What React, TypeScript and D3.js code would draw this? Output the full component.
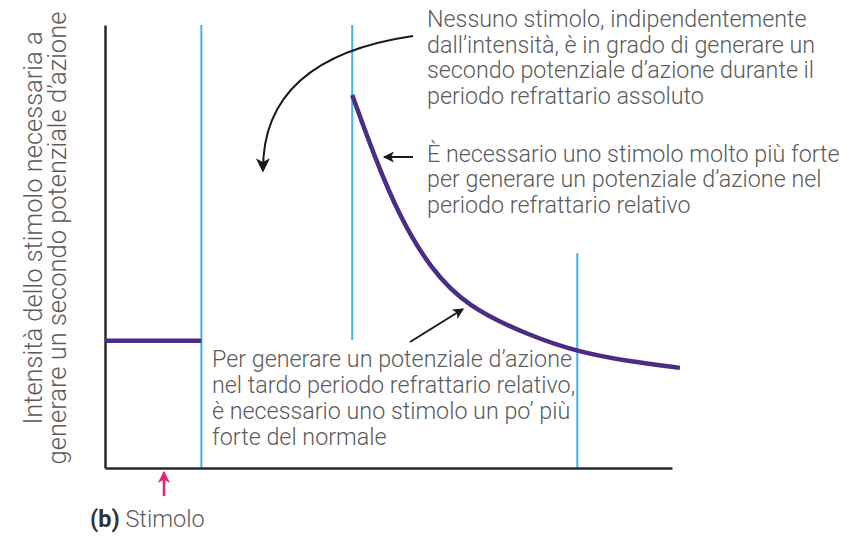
import React, { useEffect, useRef } from "react";
import * as d3 from "d3";

const WIDTH = 858;
const HEIGHT = 536;

// time runs 0-100 along the axis, threshold 0-100 up the axis
const restTime = [0, 17];
const restThreshold = [28.7, 28.7];

const refractoryTime = [43.6, 47.6, 52.0, 57.3, 63.8, 75.0, 83.4, 92.6, 101.4];
const refractoryThreshold = [84.2, 70.0, 56.6, 45.2, 36.4, 29.8, 26.2, 24.0, 22.6];

const dividerTime = [17, 43.6, 83.3];
const dividerTop = [100, 100, 48.5];
const dividerBottom = [0, 28.9, 0];

const stimulusTime = 10.4;

const yLabelLines = [
  "Intensità dello stimolo necessaria a",
  "generare un secondo potenziale d’azione",
];
const noteAbsolute = [
  "Nessuno stimolo, indipendentemente",
  "dall’intensità, è in grado di generare un",
  "secondo potenziale d’azione durante il",
  "periodo refrattario assoluto",
];
const noteRelative = [
  "È necessario uno stimolo molto più forte",
  "per generare un potenziale d’azione nel",
  "periodo refrattario relativo",
];
const noteLate = [
  "Per generare un potenziale d’azione",
  "nel tardo periodo refrattario relativo,",
  "è necessario uno stimolo un po’ più",
  "forte del normale",
];

const FONT = "Roboto, 'Open Sans', sans-serif";
const TEXT = "#5b5b5b";

const App = () => {
  const svgRef = useRef<SVGSVGElement>(null);

  useEffect(() => {
    const svg = d3.select(svgRef.current);
    svg.selectAll("*").remove();

    const x = d3.scaleLinear().domain([0, 100]).range([105, 672]);
    const y = d3.scaleLinear().domain([0, 100]).range([468, 25]);

    const defs = svg.append("defs");
    const marker = (id: string, color: string, w: number, h: number) =>
      defs
        .append("marker")
        .attr("id", id)
        .attr("viewBox", "0 0 10 10")
        .attr("refX", 9)
        .attr("refY", 5)
        .attr("markerUnits", "userSpaceOnUse")
        .attr("markerWidth", w)
        .attr("markerHeight", h)
        .attr("orient", "auto")
        .append("path")
        .attr("d", "M0,0 L10,5 L0,10 L2.5,5 z")
        .attr("fill", color);
    marker("head", "#1a1a1a", 14, 11);
    marker("headBig", "#1a1a1a", 20, 14);
    marker("pink", "#e5267a", 15, 12);

    // dividers
    svg
      .selectAll(".divider")
      .data(dividerTime)
      .join("line")
      .attr("class", "divider")
      .attr("x1", (d) => x(d))
      .attr("x2", (d) => x(d))
      .attr("y1", (d, i) => y(dividerTop[i]))
      .attr("y2", (d, i) => y(dividerBottom[i]))
      .attr("stroke", "#3db3e6")
      .attr("stroke-width", 2);

    // axes
    const xAxis = d3.axisBottom(x).ticks(0).tickSizeOuter(0);
    const yAxis = d3.axisLeft(y).ticks(0).tickSizeOuter(0);
    svg
      .append("g")
      .attr("transform", `translate(0,${y(0)})`)
      .call(xAxis)
      .select("path")
      .attr("stroke", "#2a2a2a")
      .attr("stroke-width", 2.5);
    svg
      .append("g")
      .attr("transform", `translate(${x(0)},0)`)
      .call(yAxis)
      .select("path")
      .attr("stroke", "#2a2a2a")
      .attr("stroke-width", 2.5);

    const line = d3
      .line<number>()
      .x((d) => x(d))
      .curve(d3.curveBasis);

    svg
      .append("path")
      .attr("d", line.y((d, i) => y(restThreshold[i]))(restTime))
      .attr("fill", "none")
      .attr("stroke", "#4a2d84")
      .attr("stroke-width", 4.5);

    svg
      .append("path")
      .attr("d", line.y((d, i) => y(refractoryThreshold[i]))(refractoryTime))
      .attr("fill", "none")
      .attr("stroke", "#4a2d84")
      .attr("stroke-width", 4.5);

    // annotation arrows
    svg
      .append("path")
      .attr("d", "M413,36 Q262,58 263,171")
      .attr("fill", "none")
      .attr("stroke", "#1a1a1a")
      .attr("stroke-width", 2)
      .attr("marker-end", "url(#headBig)");
    svg
      .append("line")
      .attr("x1", 413)
      .attr("y1", 157)
      .attr("x2", 384)
      .attr("y2", 157)
      .attr("stroke", "#1a1a1a")
      .attr("stroke-width", 2)
      .attr("marker-end", "url(#head)");
    svg
      .append("line")
      .attr("x1", 410)
      .attr("y1", 342)
      .attr("x2", 463)
      .attr("y2", 309)
      .attr("stroke", "#1a1a1a")
      .attr("stroke-width", 2)
      .attr("marker-end", "url(#head)");
    svg
      .append("line")
      .attr("x1", x(stimulusTime))
      .attr("y1", 496)
      .attr("x2", x(stimulusTime))
      .attr("y2", 472)
      .attr("stroke", "#e5267a")
      .attr("stroke-width", 2.5)
      .attr("marker-end", "url(#pink)");

    const block = (lines: string[], left: number, top: number, step: number) =>
      svg
        .append("g")
        .selectAll("text")
        .data(lines)
        .join("text")
        .attr("x", left)
        .attr("y", (d, i) => top + i * step)
        .attr("fill", TEXT)
        .style("font-family", FONT)
        .style("font-weight", 300)
        .style("font-size", "23.3px")
        .text((d) => d);

    block(noteAbsolute, 427, 27, 25.6);
    block(noteRelative, 427, 162, 25.3);
    block(noteLate, 212, 367, 26);

    // y label
    svg
      .append("g")
      .selectAll("text")
      .data(yLabelLines)
      .join("text")
      .attr("transform", (d, i) => `translate(${42 + i * 24},${228 + i * 10}) rotate(-90)`)
      .attr("text-anchor", "middle")
      .attr("fill", TEXT)
      .style("font-family", FONT)
      .style("font-weight", 300)
      .style("font-size", "25.5px")
      .text((d) => d);

    const caption = svg
      .append("text")
      .attr("x", 90)
      .attr("y", 527)
      .style("font-family", FONT)
      .style("font-size", "23.5px");
    caption.append("tspan").attr("fill", "#333").style("font-weight", 700).text("(b)");
    caption.append("tspan").attr("fill", TEXT).style("font-weight", 300).text(" Stimolo");
  }, []);

  return (
    <div>
      <svg
        ref={svgRef}
        width={WIDTH}
        height={HEIGHT}
        style={{ position: "absolute", left: 0, top: 0, background: "#fff" }}
      />
    </div>
  );
};

export default App;
